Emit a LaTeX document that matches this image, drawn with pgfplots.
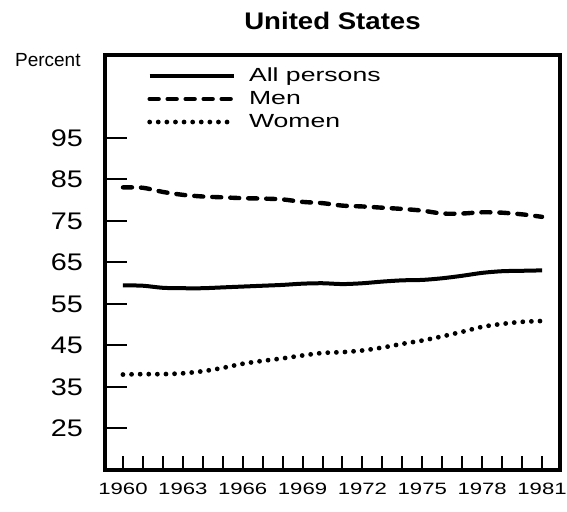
\documentclass[border=0pt]{standalone}
\usepackage{fontspec}
\setmainfont{Liberation Sans}
\newfontfamily\tickfont[FakeStretch=1.2]{Liberation Sans}
\newfontfamily\xfont[FakeStretch=1.35]{Liberation Sans}
\newfontfamily\legfont[FakeStretch=1.4]{Liberation Sans}
\newfontfamily\titlefont[FakeStretch=1.15]{Liberation Sans}
\usepackage{pgfplots}
\usepackage{pgfplotstable}
\pgfplotsset{compat=1.18}

% year, all persons, men, women (percent)
\pgfplotstableread{
year all  men  women
1960 59.5 83.1 38.0
1961 59.4 83.0 38.1
1962 58.9 82.0 38.1
1963 58.8 81.3 38.3
1964 58.8 80.9 38.8
1965 59.0 80.7 39.6
1966 59.2 80.5 40.6
1967 59.4 80.4 41.3
1968 59.6 80.2 41.9
1969 59.9 79.6 42.6
1970 60.0 79.3 43.2
1971 59.8 78.7 43.4
1972 60.0 78.5 43.8
1973 60.4 78.2 44.5
1974 60.7 77.9 45.4
1975 60.8 77.5 46.2
1976 61.2 76.8 47.2
1977 61.8 76.8 48.3
1978 62.5 77.1 49.5
1979 62.9 77.0 50.2
1980 63.0 76.6 50.7
1981 63.1 76.0 50.9
}\lfpr

\begin{document}
\begin{tikzpicture}
\begin{axis}[
  scale only axis,
  width=227.5pt, height=207.5pt,
  xmin=1959.1, xmax=1981.9,
  ymin=15, ymax=115,
  axis line style={line width=2.2pt},
  tick align=inside,
  xtick={1960,...,1981},
  xticklabels={1960,,,1963,,,1966,,,1969,,,1972,,,1975,,,1978,,,1981},
  ytick={25,35,...,95},
  yticklabels={25,35,45,55,65,75,85,95},
  xtick pos=left, ytick pos=left,
  xtick style={line width=1pt, black, /pgfplots/major tick length=7pt},
  ytick style={line width=1pt, black, /pgfplots/major tick length=11pt},
  xticklabel style={font=\xfont\fontsize{8.2}{9}\selectfont, inner sep=0pt, yshift=-6.5pt},
  yticklabel style={font=\tickfont\fontsize{12}{14}\selectfont, xshift=-7.5pt},
  every axis title shift=0pt,
  title={United States},
  title style={font=\titlefont\bfseries\fontsize{12}{14}\selectfont, at={(0.5,1)}, anchor=south, inner sep=0pt, yshift=12.5pt},
  legend cell align=left,
  legend style={at={(axis description cs:0.092,0.972)}, anchor=north west,
    draw=none, fill=none, inner sep=0pt,
    font=\legfont\fontsize{9.5}{11}\selectfont,
    row sep=2.5pt, column sep=6.5pt,
    nodes={inner sep=0pt, text height=7pt, text depth=2pt}},
  legend image code/.code={\draw[#1] (0pt,0pt) -- (42pt,0pt);},
]
\addplot[black, line width=2pt, smooth] table[x=year, y=all] {\lfpr};
\addplot[black, line width=2.2pt, line cap=round, dash pattern=on 4.5pt off 4.5pt, smooth] table[x=year, y=men] {\lfpr};
\addplot[black, line width=2.4pt, line cap=round, dash pattern=on 0pt off 4.3pt, smooth] table[x=year, y=women] {\lfpr};
\legend{All persons, Men, Women}
\end{axis}
\node[anchor=base east, inner sep=0pt, font=\fontsize{9.5}{11}\selectfont]
  at ([xshift=-12pt, yshift=-6pt]current axis.north west) {Percent};
\path ([xshift=-52.5pt, yshift=-21pt]current axis.south west);
\path ([xshift=3.5pt, yshift=27.5pt]current axis.north east);
\end{tikzpicture}
\end{document}
